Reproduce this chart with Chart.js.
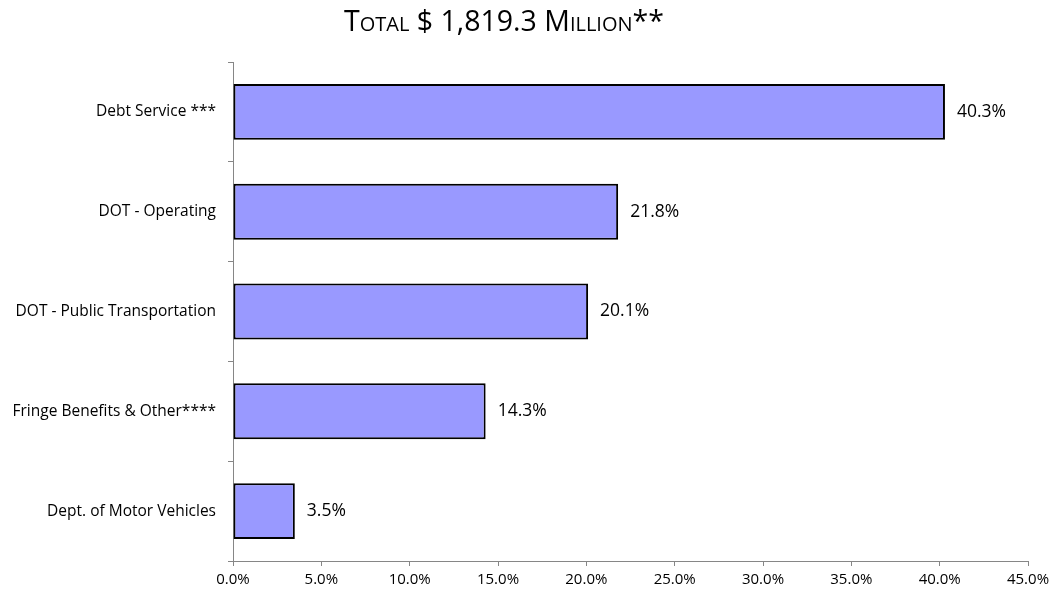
<!DOCTYPE html>
<html>
<head>
<meta charset="utf-8">
<script src="https://cdn.jsdelivr.net/npm/chart.js@4/dist/chart.umd.min.js"></script>
<style>
  html, body { margin: 0; padding: 0; background: #fff; }
  #wrap { position: relative; width: 1056px; height: 598px; }
  #titulo {
    position: absolute; left: 0; width: 1008px; top: 6px; line-height: 28px;
    text-align: center; font-family: 'Open Sans', sans-serif; font-size: 28.5px;
    font-variant: small-caps; color: #000;
  }
</style>
</head>
<body>
<div id="wrap">
  <div id="titulo">Total $ 1,819.3 Million**</div>
  <canvas id="grafico" width="1056" height="598"></canvas>
</div>
<script>
// Datos del gráfico
const categorias = ['Debt Service ***', 'DOT - Operating', 'DOT - Public Transportation', 'Fringe Benefits & Other****', 'Dept. of Motor Vehicles'];
const porcentajes = [40.3, 21.8, 20.1, 14.3, 3.5];
const ticksX = [0, 5, 10, 15, 20, 25, 30, 35, 40, 45];

const fuente = '"Open Sans", sans-serif';

// etiquetas al final de cada barra
const etiquetasBarras = {
  id: 'etiquetasBarras',
  afterDatasetsDraw(chart) {
    const ctx = chart.ctx;
    const meta = chart.getDatasetMeta(0);
    ctx.save();
    ctx.font = '17.5px ' + fuente;
    ctx.fillStyle = '#000';
    ctx.textAlign = 'left';
    ctx.textBaseline = 'middle';
    meta.data.forEach((bar, i) => {
      ctx.fillText(porcentajes[i].toFixed(1) + '%', bar.x + 12, bar.y);
    });
    ctx.restore();
  }
};

new Chart(document.getElementById('grafico').getContext('2d'), {
  type: 'bar',
  data: {
    labels: categorias,
    datasets: [{
      data: porcentajes,
      backgroundColor: '#9999FF',
      borderColor: '#000',
      borderWidth: 2,
      borderSkipped: false,
      barPercentage: 0.56,
      categoryPercentage: 1
    }]
  },
  options: {
    indexAxis: 'y',
    responsive: false,
    animation: false,
    layout: { padding: { left: 0, right: 28, top: 62, bottom: 0 } },
    plugins: { legend: { display: false }, tooltip: { enabled: false }, title: { display: false } },
    scales: {
      x: {
        min: 0, max: 45,
        afterBuildTicks: s => { s.ticks = ticksX.map(v => ({ value: v })); },
        afterFit: s => { s.height = 37; },
        grid: { drawOnChartArea: false, tickLength: 5, color: '#868686', tickColor: '#868686' },
        border: { color: '#868686', width: 1 },
        ticks: { color: '#000', padding: 5, font: { family: fuente, size: 15 }, callback: v => Number(v).toFixed(1) + '%' }
      },
      y: {
        afterFit: s => { s.width = 233; },
        grid: { drawOnChartArea: false, tickLength: 5, offset: true, color: '#868686', tickColor: '#868686' },
        border: { color: '#868686', width: 1 },
        ticks: { color: '#000', padding: 12, font: { family: fuente, size: 15.5 } }
      }
    }
  },
  plugins: [etiquetasBarras]
});
</script>
</body>
</html>
